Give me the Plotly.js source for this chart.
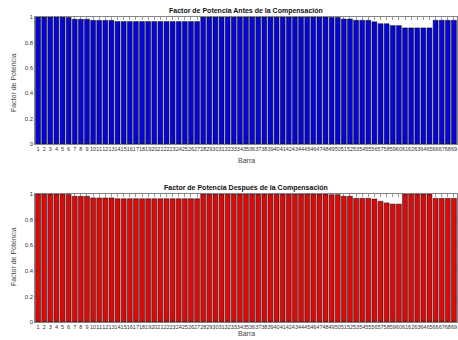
<!DOCTYPE html>
<html><head><meta charset="utf-8">
<script src="https://cdn.plot.ly/plotly-3.0.1.min.js"></script>
<style>html,body{margin:0;padding:0;overflow:hidden;background:#fff}#c{width:470px;height:340px}</style>
</head><body><div id="c"></div>
<script>
const barras = [1,2,3,4,5,6,7,8,9,10,11,12,13,14,15,16,17,18,19,20,21,22,23,24,25,26,27,28,29,30,31,32,33,34,35,36,37,38,39,40,41,42,43,44,45,46,47,48,49,50,51,52,53,54,55,56,57,58,59,60,61,62,63,64,65,66,67,68,69];
const fpAntes = [1,1,1,1,1,0.996,0.982,0.982,0.982,0.973,0.973,0.973,0.973,
  0.964,0.964,0.964,0.964,0.964,0.964,0.964,0.964,0.964,0.964,0.964,0.964,0.964,0.964,
  1,1,1,1,1,1,1,1,1,1,1,1,1,1,1,1,1,1,1,1,1,
  0.997,0.997,0.984,0.984,0.974,0.974,0.974,0.962,0.947,0.947,0.932,0.932,
  0.914,0.914,0.914,0.914,0.914,0.974,0.974,0.974,0.974];
const fpDespues = [1,1,1,1,1,0.996,0.982,0.982,0.982,0.969,0.969,0.969,0.969,
  0.963,0.963,0.963,0.963,0.963,0.963,0.963,0.963,0.963,0.963,0.963,0.963,0.963,0.963,
  1,1,1,1,1,1,1,1,1,1,1,1,1,1,1,1,1,1,1,1,1,
  0.995,0.995,0.982,0.982,0.966,0.966,0.966,0.961,0.943,0.930,0.921,0.921,
  1,1,1,1,1,0.966,0.966,0.966,0.966];
const yTicks = [0,0.2,0.4,0.6,0.8,1];
const yTickText = ['0','0.2','0.4','0.6','0.8','1'];
const titles = ['Factor de Potencia Antes de la Compensación','Factor de Potencia Después de la Compensación'];

const F = 'Liberation Sans, Arial, sans-serif';
const traces = [
  {type:'bar', x:barras, y:fpAntes, xaxis:'x', yaxis:'y', marker:{color:'#0505d6', line:{color:'#000', width:0.5}}, hoverinfo:'x+y'},
  {type:'bar', x:barras, y:fpDespues, xaxis:'x2', yaxis:'y2', marker:{color:'#de0a0a', line:{color:'#000', width:0.5}}, hoverinfo:'x+y'}
];
function xa(anchor){return {anchor:anchor, range:[0.5,69.5], tickmode:'array', tickvals:barras, ticktext:barras.map(String),
  tickangle:0, tickfont:{family:F,size:5.5,color:'#333'}, ticks:'inside', ticklen:3, tickwidth:0.5, tickcolor:'#333',
  showline:true, linecolor:'#333', linewidth:0.6, mirror:'ticks', showgrid:false, zeroline:false, fixedrange:true};}
function ya(anchor, dom){return {anchor:anchor, domain:dom, range:[0,1], tickmode:'array', tickvals:yTicks, ticktext:yTickText,
  tickfont:{family:F,size:6,color:'#333'}, ticks:'inside', ticklen:3, tickwidth:0.5, tickcolor:'#333',
  showline:true, linecolor:'#333', linewidth:0.6, mirror:'ticks', showgrid:false, zeroline:false, fixedrange:true};}
const ann = [];
function addAnn(text, x, y, size, bold, angle){ann.push({text:bold?'<b>'+text+'</b>':text, xref:'paper', yref:'paper', x:x, y:y,
  xanchor:'center', yanchor:'middle', showarrow:false, textangle:angle||0, font:{family:F, size:size, color:bold?'#111':'#444'}});}
addAnn(titles[0], 0.5, 1.0197, 7, true);
addAnn(titles[1], 0.5, 0.4393, 7, true);
addAnn('Barra', 0.5, 0.5279, 7, false);
addAnn('Barra', 0.5, -0.0393, 7, false);
addAnn('Factor de Potencia', -0.052, 0.7836, 7, false, -90);
addAnn('Factor de Potencia', -0.052, 0.2131, 7, false, -90);

const layout = {width:470, height:340, margin:{l:35, r:13, t:17, b:18}, showlegend:false,
  paper_bgcolor:'#fff', plot_bgcolor:'#fff', bargap:0.2,
  xaxis:xa('y'), yaxis:ya('x',[0.5836,1]), xaxis2:xa('y2'), yaxis2:ya('x2',[0,0.4197]), annotations:ann};
Plotly.newPlot('c', traces, layout, {displayModeBar:false, staticPlot:true});
</script></body></html>
